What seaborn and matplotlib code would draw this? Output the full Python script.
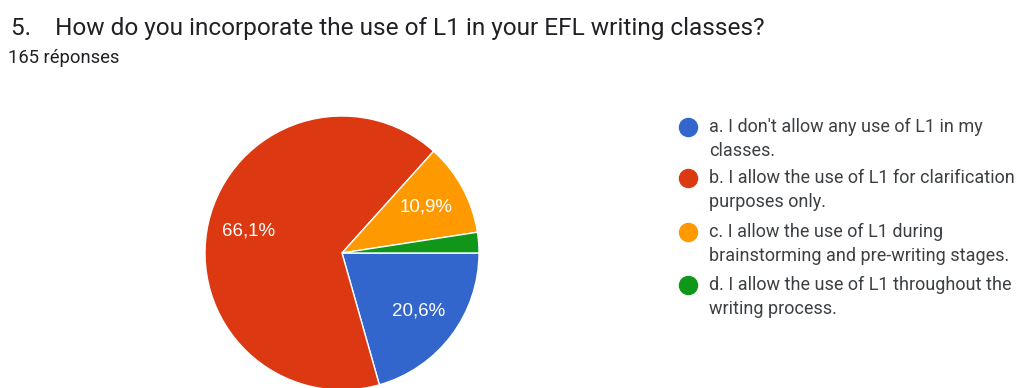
import matplotlib
matplotlib.use("Agg")
import matplotlib.pyplot as plt
import seaborn as sns
from matplotlib.lines import Line2D

# ---- data ----
categories = [
    "a. I don't allow any use of L1 in my\nclasses.",
    "b. I allow the use of L1 for clarification\npurposes only.",
    "c. I allow the use of L1 during\nbrainstorming and pre-writing stages.",
    "d. I allow the use of L1 throughout the\nwriting process.",
]
counts = [34, 109, 18, 4]
colors = ["#3366cc", "#dc3912", "#ff9900", "#109618"]
title = "5.    How do you incorporate the use of L1 in your EFL writing classes?"
subtitle = "165 réponses"

sns.set_theme(style="white")
plt.rcParams["font.family"] = ["Roboto", "DejaVu Sans"]

W, H = 1021, 388
fig = plt.figure(figsize=(W / 100, H / 100), dpi=100)
fig.patch.set_facecolor("white")

# pie axes: center (342, 253) px from top, radius 137 px
cx, cy, r = 342, H - 253, 137
ax = fig.add_axes([(cx - r) / W, (cy - r) / H, 2 * r / W, 2 * r / H])


def fmt(p):
    if p < 5:
        return ""
    return f"{p:.1f}%".replace(".", ",")


wedges, texts, autotexts = ax.pie(
    counts,
    colors=colors,
    startangle=0,
    counterclock=False,
    autopct=fmt,
    pctdistance=0.7,
    radius=1,
    wedgeprops=dict(edgecolor="white", linewidth=1),
    textprops=dict(color="white", fontsize=13.5, family=["Liberation Sans"]),
)
ax.set_xlim(-1, 1)
ax.set_ylim(-1, 1)
ax.set_aspect("equal")
ax.axis("off")
for w in wedges:
    w.set_clip_on(False)

fig.text(11 / W, 1 - 28 / H, title, fontsize=17.6, color="#202124", va="center", ha="left")
fig.text(8 / W, 1 - 58 / H, subtitle, fontsize=13.2, color="#202124", va="center", ha="left")

# legend
first_line_y = [127, 178, 232, 285]
line_gap = 24
for lab, col, y in zip(categories, colors, first_line_y):
    fig.add_artist(Line2D([688 / W], [1 - y / H], marker="o", markersize=13,
                          color=col, linestyle="none", transform=fig.transFigure))
    for i, part in enumerate(lab.split("\n")):
        fig.text(709 / W, 1 - (y + i * line_gap) / H, part, fontsize=13,
                 color="#3c4043", va="center", ha="left")

fig.savefig("out.png", dpi=100, facecolor="white")
